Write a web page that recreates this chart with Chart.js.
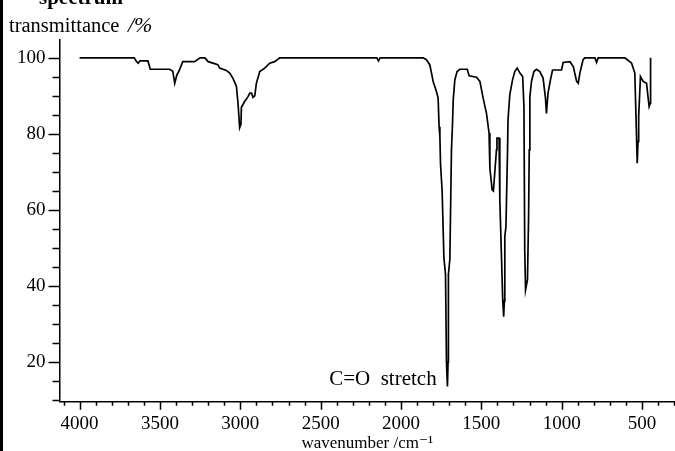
<!doctype html>
<html>
<head>
  <meta charset="utf-8">
  <script src="https://cdn.jsdelivr.net/npm/chart.js@4/dist/chart.umd.min.js"></script>
  <style>
    html, body { margin: 0; padding: 0; background: #fff; }
  </style>
</head>
<body>
  <canvas id="c" width="675" height="451"></canvas>
  <script>
    // IR spectrum (wavenumber in cm-1, transmittance in %)
    const wavenumber = [
      4000, 3660, 3645, 3635, 3625, 3575, 3560, 3440, 3420, 3408, 3395, 3383, 3358, 3284, 3250, 3220,
      3200, 3170, 3140, 3128, 3087, 3066, 3047, 3024, 3014, 3004, 2996, 2993, 2973, 2952, 2941, 2930,
      2921, 2910, 2900, 2879, 2848, 2817, 2786, 2755, 2150, 2140, 2130, 1862, 1842, 1821, 1810, 1800,
      1779, 1769, 1763, 1758, 1754, 1744, 1733, 1723, 1717, 1711, 1707, 1705, 1696, 1686, 1680, 1675,
      1665, 1651, 1634, 1588, 1576, 1530, 1509, 1489, 1468, 1452, 1447, 1433, 1425, 1416, 1406, 1403,
      1390, 1385, 1367, 1361, 1357, 1354, 1347, 1337, 1334, 1323, 1306, 1292, 1277, 1260, 1243, 1235,
      1230, 1225, 1213, 1206, 1202, 1198, 1188, 1173, 1157, 1136, 1116, 1101, 1095, 1085, 1070, 1057,
      1001, 991, 949, 928, 907, 897, 887, 867, 856, 793, 783, 773, 607, 586, 565, 545,
      535, 530, 525, 521, 510, 493, 472, 462, 456, 450, 447
    ];
    const transmittance = [
      100, 100, 99, 98.6, 99.2, 99.2, 97, 97, 96.5, 93.3, 95.5, 96.4, 99, 99, 100, 100,
      99, 98.6, 98.2, 97.3, 96.7, 96, 94.7, 92.5, 88, 81.6, 82.5, 87, 88.5, 89.8, 90.7, 90.7,
      89.6, 90, 93.3, 96.4, 97.3, 98.6, 99, 100, 100, 99.2, 100, 100, 99.5, 98.2, 96, 93.8,
      91.1, 89.4, 81.9, 79.3, 72, 65, 47.4, 43, 20, 13.5, 20, 43, 47, 75.8, 82, 89,
      94.2, 96.4, 97, 97, 95.3, 94.9, 93.8, 89.4, 85.4, 80.2, 71, 65.3, 65, 70.1, 75.8, 78.9,
      78.9, 62.6, 36.3, 31.9, 36, 53, 55.6, 75.8, 83.7, 90.3, 94.2, 96.4, 97.3, 96, 95.1, 87.2,
      49.5, 38.9, 41.6, 58.3, 75.8, 89.8, 93.8, 96.4, 97, 96.4, 94.7, 89.4, 85.4, 90.7, 94.2, 96.8,
      96.8, 98.8, 99, 97.7, 93.8, 93.3, 96, 99.5, 100, 100, 98.8, 100, 100, 99.3, 98.6, 96,
      80.3, 72.3, 78, 84.6, 95.1, 93.8, 93.3, 89.4, 87.2, 88, 100
    ];
    const xLabels = [4000, 3500, 3000, 2500, 2000, 1500, 1000, 500];
    const yLabels = [20, 40, 60, 80, 100];

    const serif = "'Liberation Serif', 'DejaVu Serif', serif";
    Chart.defaults.font.family = serif;
    Chart.defaults.color = '#000';

    const points = wavenumber.map((w, i) => ({ x: w, y: transmittance[i] }));

    // tick marks: long at labelled values, short in between; plus the loose texts
    const decor = {
      id: 'decor',
      afterDraw(chart) {
        const { ctx, chartArea: a, scales: { x, y } } = chart;
        ctx.save();
        ctx.strokeStyle = '#000';
        ctx.lineWidth = 1.5;
        ctx.beginPath();
        x.ticks.forEach(t => {
          const px = Math.round(x.getPixelForValue(t.value)) + 0.5;
          const len = xLabels.includes(t.value) ? 8 : 4;
          ctx.moveTo(px, a.bottom);
          ctx.lineTo(px, a.bottom + len);
        });
        y.ticks.forEach(t => {
          const py = Math.round(y.getPixelForValue(t.value)) + 0.5;
          const len = yLabels.includes(t.value) ? 11 : 7;
          ctx.moveTo(a.left - len, py);
          ctx.lineTo(a.left, py);
        });
        ctx.stroke();

        ctx.fillStyle = '#000';
        ctx.fillRect(0, 0, 3, chart.height);

        ctx.textBaseline = 'alphabetic';
        ctx.textAlign = 'left';
        ctx.font = 'bold 21px ' + serif;
        ctx.fillText('spectrum', 39, 4);
        ctx.font = '20.5px ' + serif;
        ctx.fillText('transmittance', 9, 32);
        ctx.font = 'italic 22px ' + serif;
        ctx.fillText('/%', 128, 32);

        ctx.textAlign = 'right';
        ctx.font = '21px ' + serif;
        ctx.fillText('C=O  stretch', x.getPixelForValue(1778), y.getPixelForValue(14));
        ctx.restore();
      }
    };

    new Chart(document.getElementById('c'), {
      type: 'line',
      data: {
        datasets: [{
          data: points,
          borderColor: '#000',
          borderWidth: 1.7,
          pointRadius: 0,
          tension: 0,
          fill: false
        }]
      },
      options: {
        responsive: false,
        animation: false,
        devicePixelRatio: 1,
        layout: { padding: { left: 14, top: 40, right: 0, bottom: 0 } },
        plugins: { legend: { display: false }, tooltip: { enabled: false } },
        scales: {
          x: {
            type: 'linear',
            reverse: true,
            min: 295,
            max: 4125,
            afterBuildTicks: s => {
              const t = [];
              for (let v = 300; v <= 4100; v += 100) t.push({ value: v });
              s.ticks = t;
            },
            ticks: {
              autoSkip: false,
              maxRotation: 0,
              padding: 5,
              font: { size: 19, lineHeight: 1 },
              callback: v => xLabels.includes(v) ? String(v) : ''
            },
            grid: { drawOnChartArea: false, drawTicks: true, tickLength: 8, tickColor: 'rgba(0,0,0,0)' },
            border: { display: true, color: '#000', width: 1.5 },
            title: { display: true, text: 'wavenumber /cm\u207B\u00B9', font: { size: 17, lineHeight: 0.25 }, padding: { top: 3, bottom: 5 } }
          },
          y: {
            type: 'linear',
            min: 9.5,
            max: 104.7,
            afterBuildTicks: s => {
              const t = [];
              for (let v = 10; v <= 100; v += 5) t.push({ value: v });
              s.ticks = t;
            },
            ticks: {
              autoSkip: false,
              padding: 3,
              font: { size: 19 },
              callback: v => yLabels.includes(v) ? String(v) : ''
            },
            grid: { drawOnChartArea: false, drawTicks: true, tickLength: 11, tickColor: 'rgba(0,0,0,0)' },
            border: { display: true, color: '#000', width: 1.5 }
          }
        }
      },
      plugins: [decor]
    });
  </script>
</body>
</html>
